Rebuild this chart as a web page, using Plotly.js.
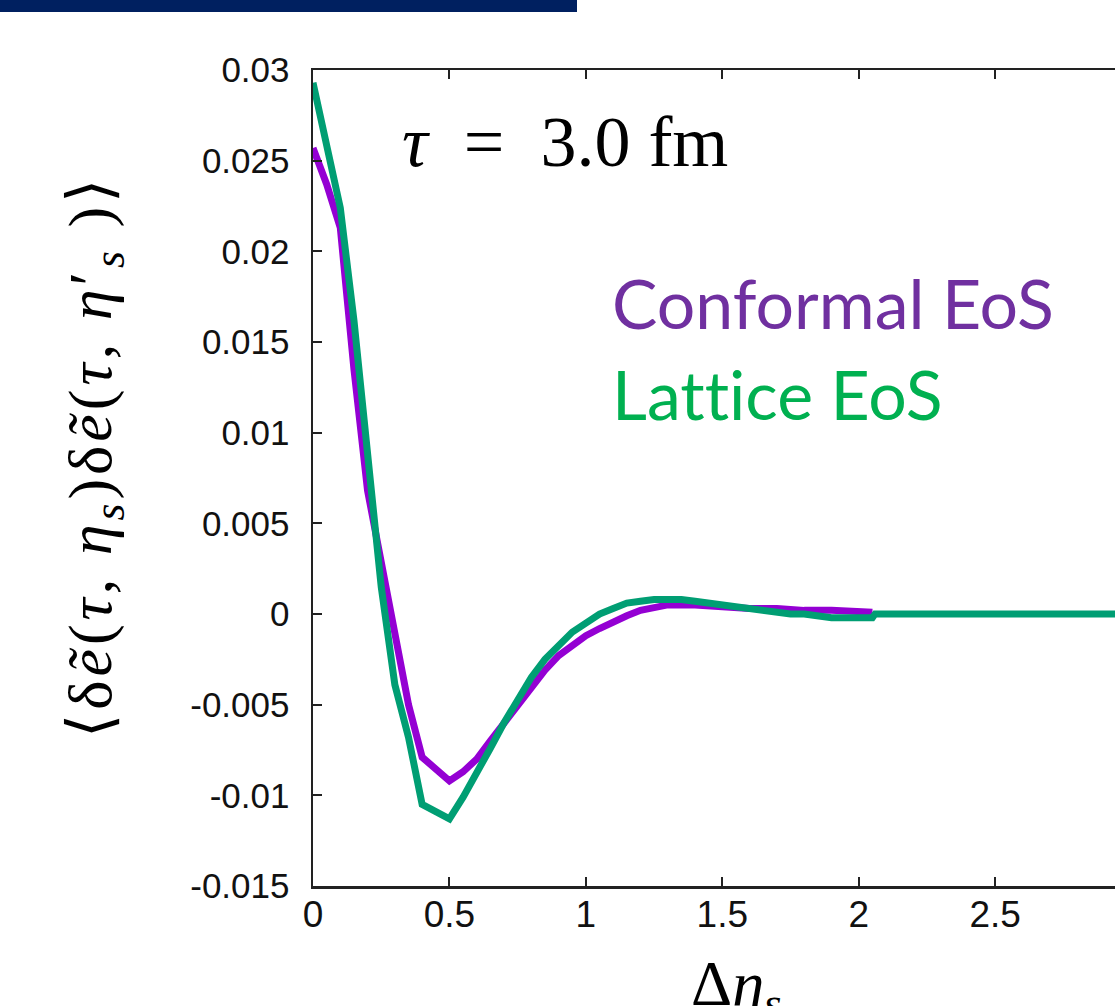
<!DOCTYPE html>
<html>
<head>
<meta charset="utf-8">
<script src="https://cdn.plot.ly/plotly-3.0.1.min.js"></script>
<style>
  html, body { margin: 0; padding: 0; background: #fff; overflow: hidden; }
  #bar { position: absolute; left: 0; top: 0; width: 577px; height: 12px; background: #002060; z-index: 5; }
  #chart { width: 1115px; height: 1006px; }
  text { font-variant-ligatures: none !important; font-feature-settings: "liga" 0, "clig" 0, "dlig" 0 !important; }
  g.annotation[data-index="0"] text { letter-spacing: 4px; }
</style>
</head>
<body>
<div id="bar"></div>
<div id="chart"></div>
<script>
// Δη_s sample points and correlator values
const conformalX = [0, 0.05, 0.1, 0.15, 0.2, 0.25, 0.3, 0.35, 0.4, 0.45, 0.5, 0.55, 0.6, 0.65, 0.7, 0.75, 0.8, 0.85, 0.9, 0.95, 1.0, 1.05, 1.1, 1.15, 1.2, 1.25, 1.3, 1.35, 1.4, 1.5, 1.6, 1.7, 1.8, 1.9, 2.0, 2.05];
const conformalY = [0.0257, 0.0237, 0.0213, 0.0135, 0.0068, 0.0027, -0.0014, -0.0050, -0.0079, -0.0086, -0.0092, -0.0087, -0.0080, -0.0070, -0.0060, -0.0050, -0.0040, -0.0031, -0.0023, -0.0017, -0.0012, -0.0008, -0.0004, -0.0001, 0.0002, 0.0004, 0.0005, 0.0005, 0.0005, 0.0004, 0.0003, 0.0003, 0.0002, 0.0002, 0.0001, 0.0001];

const latticeX = [0, 0.05, 0.1, 0.15, 0.2, 0.25, 0.3, 0.35, 0.4, 0.45, 0.5, 0.55, 0.6, 0.65, 0.7, 0.75, 0.8, 0.85, 0.9, 0.95, 1.0, 1.05, 1.1, 1.15, 1.2, 1.25, 1.3, 1.35, 1.4, 1.45, 1.5, 1.55, 1.6, 1.65, 1.7, 1.75, 1.8, 1.85, 1.9, 1.95, 2.0, 2.05, 2.06, 2.5, 3.0];
const latticeY = [0.0293, 0.0258, 0.0224, 0.0162, 0.0088, 0.0015, -0.0039, -0.0068, -0.0105, -0.0109, -0.0113, -0.0101, -0.0088, -0.0074, -0.0060, -0.0047, -0.0035, -0.0025, -0.0017, -0.0010, -0.0005, 0.0000, 0.0003, 0.0006, 0.0007, 0.0008, 0.0008, 0.0008, 0.0007, 0.0006, 0.0005, 0.0004, 0.0003, 0.0002, 0.0001, 0.0000, 0.0000, -0.0001, -0.0002, -0.0002, -0.0002, -0.0002, 0.0, 0.0, 0.0];

const xTickVals = [0, 0.5, 1, 1.5, 2, 2.5];
const xTickText = ['0', '0.5', '1', '1.5', '2', '2.5'];
const yTickVals = [-0.015, -0.01, -0.005, 0, 0.005, 0.01, 0.015, 0.02, 0.025, 0.03];
const yTickText = ['-0.015', '-0.01', '-0.005', '0', '0.005', '0.01', '0.015', '0.02', '0.025', '0.03'];

const seriesNames = ['Conformal EoS', 'Lattice EoS'];
const lineColors = ['#9400D3', '#009E73'];
const labelColors = ['#7030A0', '#00B050'];

const traces = [
  { x: conformalX, y: conformalY, name: seriesNames[0], mode: 'lines', line: { color: lineColors[0], width: 7 } },
  { x: latticeX, y: latticeY, name: seriesNames[1], mode: 'lines', line: { color: lineColors[1], width: 7 } }
];

const layout = {
  width: 1115, height: 1006,
  margin: { l: 313, r: 0, t: 70, b: 120, pad: 0 },
  paper_bgcolor: '#fff', plot_bgcolor: '#fff',
  showlegend: false,
  xaxis: {
    range: [0, 2.939], tickvals: xTickVals, ticktext: xTickText,
    ticks: 'inside', ticklen: 9, tickwidth: 2, tickcolor: '#222',
    showline: true, linecolor: '#222', linewidth: 2.5, mirror: 'ticks',
    showgrid: false, zeroline: false,
    tickfont: { family: 'Liberation Sans, Arial, sans-serif', size: 37, color: '#111' },
    ticklabelstandoff: -6
  },
  yaxis: {
    range: [-0.015, 0.03], tickvals: yTickVals, ticktext: yTickText,
    ticks: 'inside', ticklen: 9, tickwidth: 2, tickcolor: '#222',
    showline: true, linecolor: '#222', linewidth: 2.5, mirror: false,
    showgrid: false, zeroline: false,
    tickfont: { family: 'Liberation Sans, Arial, sans-serif', size: 35, color: '#111' },
    ticklabelstandoff: 14
  },
  annotations: [
    { xref: 'paper', yref: 'paper', x: -0.2718, y: 0.526, xanchor: 'center', yanchor: 'middle', textangle: -90,
      text: '⟨δ<i>ẽ</i>(<i>τ</i>, <i>η</i><sub><i>s</i></sub>)δ<i>ẽ</i>(<i>τ</i>, <i>η</i>′<sub><i>s</i></sub> )⟩',
      showarrow: false, font: { family: 'Liberation Serif, serif', size: 62, color: '#000' } },
    { xref: 'paper', yref: 'paper', x: 0.528, y: -0.125, xanchor: 'center', yanchor: 'middle',
      text: 'Δ<i>η</i><sub><i>s</i></sub>', showarrow: false,
      font: { family: 'Liberation Serif, serif', size: 64, color: '#000' } },
    { xref: 'paper', yref: 'paper', x: 0.1085, y: 0.912, xanchor: 'left', yanchor: 'middle',
      text: '<i>τ</i>  =  3.0 fm', showarrow: false,
      font: { family: 'Liberation Serif, serif', size: 72, color: '#000' } },
    { xref: 'paper', yref: 'paper', x: 0.370, y: 0.7145, xanchor: 'left', yanchor: 'middle',
      text: seriesNames[0], showarrow: false,
      font: { family: 'Lato, sans-serif', size: 68, color: labelColors[0] } },
    { xref: 'paper', yref: 'paper', x: 0.370, y: 0.604, xanchor: 'left', yanchor: 'middle',
      text: seriesNames[1], showarrow: false,
      font: { family: 'Lato, sans-serif', size: 68, color: labelColors[1] } }
  ]
};

Plotly.newPlot('chart', traces, layout, { displayModeBar: false, staticPlot: true });
</script>
</body>
</html>
